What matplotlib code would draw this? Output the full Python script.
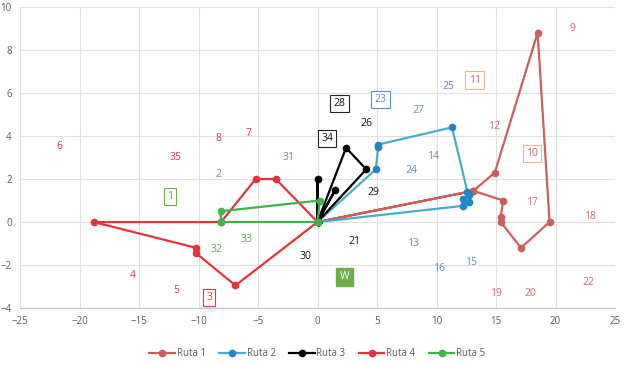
import matplotlib.pyplot as plt

plt.rcParams['font.family'] = ['Open Sans', 'DejaVu Sans']

# rutas (x, y)
ruta1_x = [0, 13.1, 14.9, 18.5, 19.5, 17.1, 15.4, 15.4, 15.6, 13.1, 0]
ruta1_y = [0, 1.45, 2.3, 8.8, 0.0, -1.2, 0.0, 0.25, 1.0, 1.45, 0]
ruta2_x = [0, 4.9, 5.1, 5.1, 11.3, 12.6, 12.7, 12.2, 12.7, 12.2, 0]
ruta2_y = [0, 2.45, 3.5, 3.6, 4.4, 1.4, 1.25, 1.05, 0.95, 0.75, 0]
ruta3_x = [0, 0, 0, 1.5, 0, 2.4, 4.1, 0]
ruta3_y = [0, 2.0, 0, 1.5, 0, 3.45, 2.45, 0]
ruta4_x = [0, -3.5, -5.2, -8.1, -18.8, -10.2, -10.2, -6.9, 0]
ruta4_y = [0, 2.0, 2.0, 0.0, 0.0, -1.2, -1.45, -2.95, 0]
ruta5_x = [0, -8.1, -8.15, 0.2, 0]
ruta5_y = [0, 0.0, 0.5, 1.0, 0]

# etiquetas de clientes
lab_text = ['6', '35', '8', '7', '31', '2', '1', '32', '33', '30', '4', '5', '3',
            '28', '23', '26', '34', '27', '25', '11', '12', '9', '10', '14', '24',
            '29', '21', '13', '16', '15', 'W', '19', '20', '22', '17', '18']
lab_x = [-21.7, -11.9, -8.3, -5.8, -2.4, -8.3, -12.4, -8.5, -6.0, -1.0, -15.5, -11.85, -9.1,
         1.85, 5.3, 4.1, 0.8, 8.5, 11.0, 13.2, 14.8, 21.4, 18.0, 9.7, 7.9,
         4.7, 3.1, 8.0, 10.2, 12.9, 2.25, 15.0, 17.9, 22.8, 18.0, 22.9]
lab_y = [3.5, 3.0, 3.9, 4.1, 3.0, 2.2, 1.2, -1.26, -0.8, -1.6, -2.5, -3.2, -3.5,
         5.5, 5.7, 4.6, 3.9, 5.2, 6.3, 6.6, 4.45, 9.0, 3.2, 3.05, 2.4,
         1.35, -0.9, -1.0, -2.15, -1.9, -2.55, -3.3, -3.3, -2.8, 0.93, 0.28]
lab_group = ['r4', 'r4', 'r4', 'r4', 'r5', 'r5', 'r5b', 'r5', 'r5', 'r3', 'r4', 'r4', 'r4b',
             'r3b', 'r2b', 'r3', 'r3b', 'r2', 'r2', 'r1b', 'r1', 'r1', 'r1b', 'r2', 'r2',
             'r3', 'r3', 'r2', 'r2', 'r2', 'w', 'r1', 'r1', 'r1', 'r1', 'r1']

c1 = '#c9605c'
c2_line = '#4bacc6'
c2_mark = '#1f86c8'
c3 = '#000000'
c4 = '#e0353a'
c5 = '#3fb348'
txt_col = {'r1': '#d06a66', 'r2': '#5b8cc8', 'r3': '#111111', 'r4': '#e0353a', 'r5': '#5aa84a'}
box_col = {'r1': '#f4b183', 'r2': '#5b8cc8', 'r3': '#222222', 'r4': '#e0353a', 'r5': '#70ad47'}

fig, ax = plt.subplots(figsize=(6.25, 3.65), dpi=100)
fig.subplots_adjust(left=0.032, right=0.984, top=0.981, bottom=0.156)

lw = 1.6
ms = 4.5
ax.plot(ruta1_x, ruta1_y, '-o', color=c1, lw=lw, ms=ms, label='Ruta 1', zorder=3)
ax.plot(ruta2_x, ruta2_y, '-o', color=c2_line, mfc=c2_mark, mec=c2_mark, lw=lw, ms=ms,
        label='Ruta 2', zorder=3)
ax.plot(ruta3_x, ruta3_y, '-o', color=c3, lw=lw, ms=ms, label='Ruta 3', zorder=3)
ax.plot(ruta4_x, ruta4_y, '-o', color=c4, lw=lw, ms=ms, label='Ruta 4', zorder=3)
ax.plot(ruta5_x, ruta5_y, '-o', color=c5, lw=lw, ms=ms, label='Ruta 5', zorder=3)

for t, x, y, g in zip(lab_text, lab_x, lab_y, lab_group):
    if g == 'w':
        ax.text(x, y, t, ha='center', va='center', fontsize=7.5, color='white',
                bbox=dict(boxstyle='square,pad=0.35', fc='#70ad47', ec='#70ad47'))
    elif g.endswith('b'):
        base = g[:-1]
        tc = c1 if base == 'r1' else txt_col[base]
        ax.text(x, y, t, ha='center', va='center', fontsize=7.5, color=tc,
                bbox=dict(boxstyle='square,pad=0.3', fc='white', ec=box_col[base], lw=0.8))
    else:
        ax.text(x, y, t, ha='center', va='center', fontsize=7.5, color=txt_col[g])

ax.set_xlim(-25, 25)
ax.set_ylim(-4, 10)
ax.set_xticks(range(-25, 26, 5))
ax.set_yticks(range(-4, 11, 2))
ax.grid(True, color='#e0e0e0', lw=0.8)
ax.set_axisbelow(True)
for s in ['top', 'right', 'left']:
    ax.spines[s].set_visible(False)
ax.spines['bottom'].set_color('#bfbfbf')
ax.tick_params(length=0, labelsize=7, labelcolor='#595959', pad=6)

ax.legend(loc='upper center', bbox_to_anchor=(0.5, -0.105), ncol=5, frameon=False,
          fontsize=7, numpoints=1, handlelength=2.6, handletextpad=0.2,
          columnspacing=1.4, labelcolor='#595959')

fig.savefig('out.png', dpi=100)
